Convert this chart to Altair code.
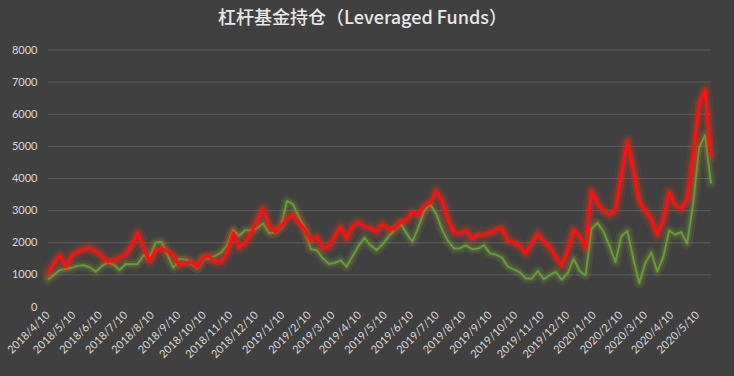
import altair as alt
import pandas as pd

# weekly report dates (Tuesdays) from 2018-04-10
week_dates = pd.date_range("2018-04-10", periods=112, freq="7D").strftime("%Y-%m-%d").tolist()

red_values = [
    1050, 1350, 1600, 1250, 1600, 1720, 1800, 1830, 1730, 1580,
    1420, 1450, 1530, 1640, 1900, 2300, 1850, 1420, 1740, 1820,
    1730, 1600, 1300, 1370, 1400, 1260, 1540, 1580, 1400, 1420,
    1680, 2300, 1850, 2000, 2280, 2700, 3050, 2520, 2350, 2520,
    2750, 2850, 2640, 2400, 2060, 2180, 1850, 1870, 2200, 2480,
    2130, 2520, 2630, 2500, 2450, 2340, 2570, 2420, 2440, 2630,
    2700, 2950, 2860, 3130, 3250, 3600, 3300, 2700, 2320, 2300,
    2370, 2130, 2250, 2250, 2310, 2400, 2440, 2070, 2000, 1900,
    1680, 1970, 2270, 2030, 1870, 1550, 1290, 1750, 2390, 2200,
    1850, 3600, 3230, 3000, 2870, 3000, 4100, 5150, 4300, 3300,
    3000, 2750, 2250, 2700, 3570, 3170, 3050, 3330, 4600, 6300,
    6750, 4700,
]

green_values = [
    850, 1000, 1150, 1180, 1220, 1280, 1300, 1230, 1100, 1270,
    1390, 1320, 1150, 1340, 1330, 1340, 1610, 1550, 2000, 2030,
    1620, 1220, 1500, 1480, 1360, 1230, 1520, 1520, 1590, 1700,
    1930, 2390, 2220, 2390, 2390, 2450, 2600, 2300, 2330, 2500,
    3300, 3200, 2800, 2450, 1800, 1770, 1520, 1350, 1370, 1450,
    1260, 1590, 1900, 2150, 1920, 1770, 1950, 2180, 2400, 2600,
    2300, 2030, 2480, 3000, 3180, 2900, 2400, 2050, 1820, 1830,
    1920, 1800, 1820, 1920, 1670, 1630, 1540, 1250, 1170, 1080,
    890, 890, 1120, 870, 990, 1090, 850, 1050, 1500, 1120,
    990, 2430, 2620, 2350, 1900, 1400, 2200, 2370, 1500, 740,
    1360, 1700, 1100, 1550, 2380, 2250, 2330, 1980, 3200, 4950,
    5350, 3850,
]

tick_months = [(2018, m) for m in range(4, 13)] + [(2019, m) for m in range(1, 13)] + [(2020, m) for m in range(1, 6)]
y_ticks = [0, 1000, 2000, 3000, 4000, 5000, 6000, 7000, 8000]
grid_values = [1000, 2000, 3000, 4000, 5000, 6000, 7000, 8000]

title_text = "杠杆基金持仓（Leveraged Funds）"

df = pd.DataFrame({"date": week_dates, "red": red_values, "green": green_values})
grid_df = pd.DataFrame({"v": grid_values})

label_color = "#d9d9d9"
font = "Lato"

x_enc = alt.X(
    "date:T",
    scale=alt.Scale(type="utc", nice=False),
    axis=alt.Axis(
        values=[alt.DateTime(year=y, month=m, date=10, utc=True) for y, m in tick_months],
        labelExpr="utcyear(datum.value) + '/' + (utcmonth(datum.value) + 1) + '/' + utcdate(datum.value)",
        labelAngle=-45,
        labelAlign="right",
        labelBaseline="middle",
        labelOverlap=False,
        labelBound=False,
        labelFlush=False,
        labelColor=label_color,
        labelFont=font,
        labelFontSize=11,
        labelPadding=6,
        grid=False,
        domain=False,
        ticks=False,
        title=None,
    ),
)

y_scale = alt.Scale(domain=[0, 8000], nice=False)
y_axis = alt.Axis(
    values=y_ticks,
    grid=False,
    domain=False,
    ticks=False,
    title=None,
    labelPadding=11,
    labelColor=label_color,
    labelFont=font,
    labelFontSize=11,
    format="d",
)

grid = alt.Chart(grid_df).mark_rule(color="#5c5c5c", strokeWidth=1).encode(
    y=alt.Y("v:Q", scale=y_scale, axis=y_axis)
)

base = alt.Chart(df)

green_glow2 = base.mark_line(color="#a8b83a", strokeWidth=11, opacity=0.09, strokeJoin="round", strokeCap="round").encode(
    x=x_enc, y=alt.Y("green:Q", scale=y_scale, axis=y_axis))
green_glow = base.mark_line(color="#8fae3a", strokeWidth=6, opacity=0.18, strokeJoin="round", strokeCap="round").encode(
    x=x_enc, y=alt.Y("green:Q", scale=y_scale, axis=y_axis))
green_line = base.mark_line(color="#629e3a", strokeWidth=2, strokeJoin="round").encode(
    x=x_enc, y=alt.Y("green:Q", scale=y_scale, axis=y_axis))

red_glow2 = base.mark_line(color="#e8401a", strokeWidth=14, opacity=0.12, strokeJoin="round", strokeCap="round").encode(
    x=x_enc, y=alt.Y("red:Q", scale=y_scale, axis=y_axis))
red_glow = base.mark_line(color="#f03020", strokeWidth=8, opacity=0.25, strokeJoin="round", strokeCap="round").encode(
    x=x_enc, y=alt.Y("red:Q", scale=y_scale, axis=y_axis))
red_line = base.mark_line(color="#ff1010", strokeWidth=3.2, strokeJoin="round").encode(
    x=x_enc, y=alt.Y("red:Q", scale=y_scale, axis=y_axis))

chart = alt.layer(
    grid, green_glow2, green_glow, green_line, red_glow2, red_glow, red_line
).properties(
    width=663,
    height=257,
    padding={"left": 48, "top": 50, "right": 23, "bottom": 69},
    autosize=alt.AutoSizeParams(type="none"),
    background="#404040",
    title=alt.Title(
        title_text,
        font="Noto Sans CJK SC",
        fontSize=18,
        fontWeight=500,
        color="#e8e8e8",
        anchor="middle",
        dx=-17,
        offset=16,
    ),
).configure_view(stroke=None)

chart.save("out.html", embed_options={"renderer": "svg", "actions": False})
